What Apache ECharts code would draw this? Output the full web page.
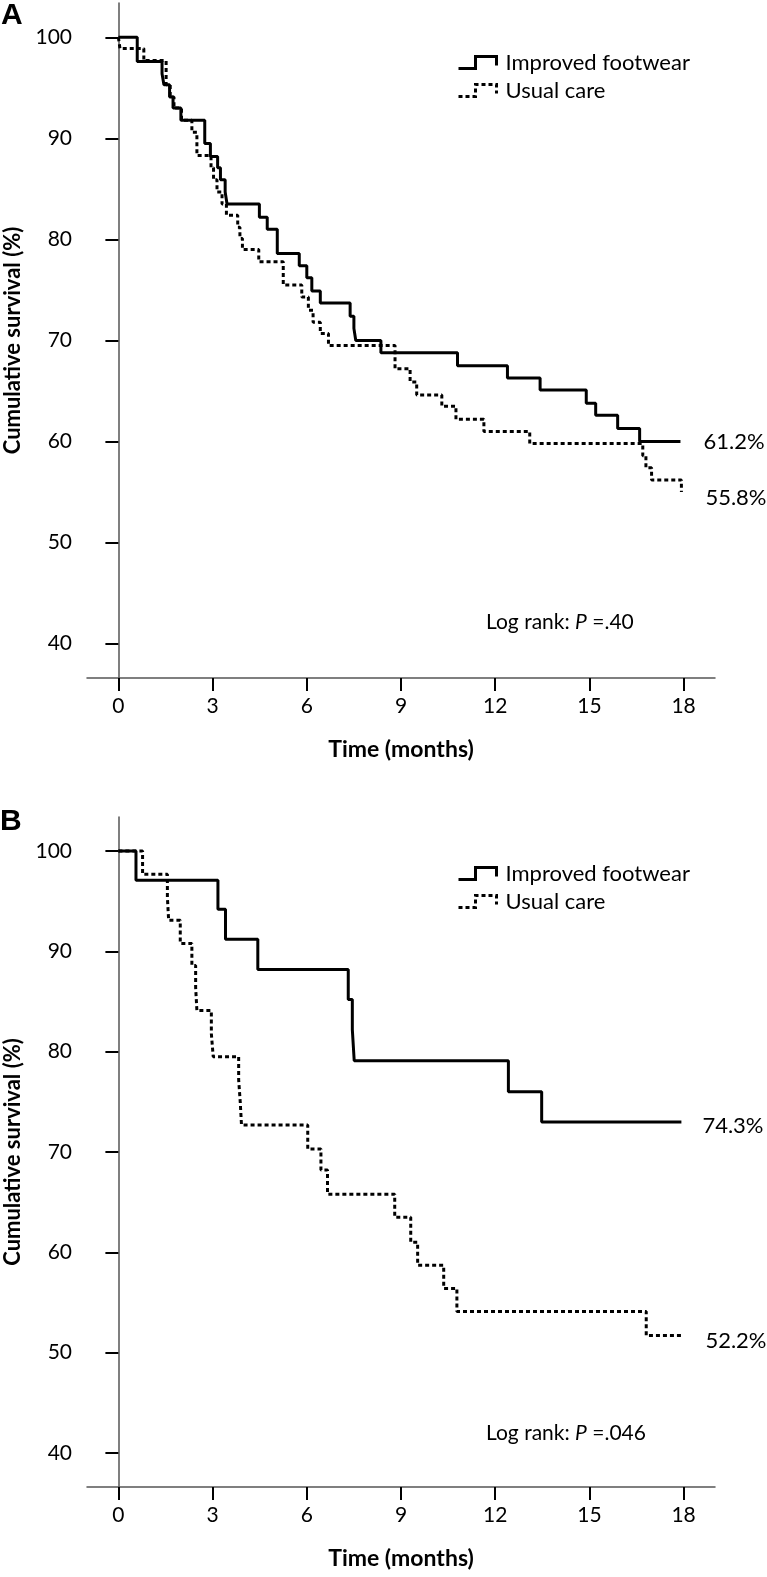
<!DOCTYPE html>
<html>
<head>
<meta charset="utf-8">
<script src="https://cdn.jsdelivr.net/npm/echarts@6/dist/echarts.min.js"></script>
<style>
html,body{margin:0;padding:0;background:#fff;}
#chart{width:767px;height:1577px;}
</style>
</head>
<body>
<div id="chart"></div>
<script>
// ---- data ----
const timeTicks = [0, 3, 6, 9, 12, 15, 18];
const survivalTicks = [40, 50, 60, 70, 80, 90, 100];
const seriesNames = ['Improved footwear', 'Usual care'];
const panelLetters = ['A', 'B'];

// Panel A: [time (months), cumulative survival (%)]
const footwearA = [[0,100],[0.6,97.6],[1.39,96.4],[1.45,95.3],[1.63,94.1],[1.74,93.0],[1.99,91.8],[2.75,89.5],[2.93,88.2],[3.16,87.1],[3.25,85.9],[3.4,84.7],[3.46,83.5],[4.49,82.2],[4.74,81.0],[5.06,78.6],[5.76,77.4],[6.0,76.2],[6.16,74.9],[6.43,73.7],[7.38,72.4],[7.5,71.2],[7.56,70.0],[8.36,68.8],[10.8,67.5],[12.39,66.3],[13.43,65.1],[14.9,63.8],[15.2,62.6],[15.9,61.3],[16.6,60.0],[17.9,60.0]];
const usualA = [[0,100],[0.05,98.9],[0.81,97.7],[1.52,95.3],[1.65,94.1],[1.77,93.0],[2.01,91.8],[2.34,90.6],[2.5,88.3],[2.95,87.1],[3.03,85.9],[3.14,84.7],[3.3,83.5],[3.44,82.4],[3.8,81.2],[3.87,80.1],[3.95,79.0],[4.47,77.8],[5.25,75.5],[5.84,74.3],[6.05,73.0],[6.2,71.8],[6.43,70.7],[6.69,69.5],[8.81,67.2],[9.29,65.9],[9.5,64.6],[10.3,63.5],[10.75,62.2],[11.64,61.0],[13.1,59.8],[16.7,58.6],[16.8,57.4],[16.98,56.2],[17.93,55.0]];

// Panel B
const footwearB = [[0,100],[0.56,97.1],[3.17,94.2],[3.41,91.2],[4.44,88.2],[7.32,85.2],[7.45,82.2],[7.51,79.1],[12.42,76.0],[13.48,73.0],[17.93,73.0]];
const usualB = [[0,100],[0.77,97.7],[1.56,95.4],[1.6,93.1],[1.97,90.8],[2.34,88.6],[2.46,86.4],[2.5,84.1],[2.96,81.8],[3.02,79.5],[3.83,77.2],[3.88,75.0],[3.92,72.7],[6.03,70.3],[6.45,68.2],[6.66,65.8],[8.8,63.5],[9.31,61.0],[9.53,58.7],[10.36,56.4],[10.78,54.1],[16.81,51.7],[17.93,51.7]];

const endLabelsA = ['61.2%', '55.8%'];
const endLabelsB = ['74.3%', '52.2%'];
const logRankP = ['.40', '.046'];

// ---- chart ----
const FONT = 'Lato';
const chart = echarts.init(document.getElementById('chart'), null, {renderer: 'canvas'});

function xAxisOpt(gridIndex) {
  return {
    type: 'value', gridIndex: gridIndex, min: -1, max: 19,
    name: 'Time (months)', nameLocation: 'middle', nameGap: 60,
    nameTextStyle: {fontFamily: FONT, fontWeight: 'bold', fontSize: 23, color: '#000'},
    axisLine: {show: true, lineStyle: {color: '#555', width: 1.5}},
    axisTick: {show: true, customValues: timeTicks, length: 13, lineStyle: {color: '#000', width: 2}},
    axisLabel: {customValues: timeTicks, margin: 18, fontFamily: FONT, fontSize: 21, color: '#000'},
    splitLine: {show: false}
  };
}
function yAxisOpt(gridIndex) {
  return {
    type: 'value', gridIndex: gridIndex, min: 36.6, max: 103.4,
    name: 'Cumulative survival (%)', nameLocation: 'middle', nameGap: 63,
    nameTextStyle: {fontFamily: FONT, fontWeight: 'bold', fontSize: 22, color: '#000'},
    axisLine: {show: true, lineStyle: {color: '#555', width: 1.5}},
    axisTick: {show: true, customValues: survivalTicks, length: 13, lineStyle: {color: '#000', width: 2}},
    axisLabel: {customValues: survivalTicks, margin: 15, fontFamily: FONT, fontSize: 21, color: '#000'},
    splitLine: {show: false}
  };
}
function kmSeries(name, data, gridIndex, dashed, label, offsetY, dist) {
  return {
    type: 'line', name: name, data: data, step: 'end',
    xAxisIndex: gridIndex, yAxisIndex: gridIndex,
    symbol: 'none', silent: true,
    lineStyle: {color: '#000', width: 3, type: dashed ? [4, 3] : 'solid', cap: 'butt'},
    itemStyle: {color: '#000'},
    endLabel: {show: true, formatter: label, distance: dist, offset: [0, offsetY],
      fontFamily: FONT, fontSize: 22, color: '#000'}
  };
}
function legendOpt(top) {
  return {
    orient: 'vertical', left: 452, top: top, itemGap: 5,
    itemWidth: 38, itemHeight: 12,
    icon: 'path://M0,12 L17,12 L17,0 L38,0 L38,9',
    itemStyle: {color: 'rgba(0,0,0,0)', borderColor: '#000', borderWidth: 3},
    textStyle: {fontFamily: FONT, fontSize: 22, color: '#000', lineHeight: 23, padding: [0, 0, 0, 4]},
    data: [
      {name: seriesNames[0]},
      {name: seriesNames[1], itemStyle: {borderType: [4, 3]}}
    ],
    selectedMode: false
  };
}
function logRankText(x, y, p) {
  return {
    type: 'text', x: x, y: y,
    style: {
      text: '{n|Log rank: }{i|P}{n| =' + p + '}',
      verticalAlign: 'middle',
      rich: {
        n: {fontFamily: FONT, fontSize: 21, fill: '#000', color: '#000'},
        i: {fontFamily: FONT, fontSize: 21, fontStyle: 'italic', fill: '#000', color: '#000'}
      }
    }
  };
}

chart.setOption({
  animation: false,
  backgroundColor: '#fff',
  grid: [
    {left: 87, top: 3, width: 628, height: 675, outerBoundsMode: 'none', containLabel: false},
    {left: 87, top: 817, width: 628, height: 670, outerBoundsMode: 'none', containLabel: false}
  ],
  xAxis: [xAxisOpt(0), xAxisOpt(1)],
  yAxis: [yAxisOpt(0), yAxisOpt(1)],
  legend: [legendOpt(46), legendOpt(857)],
  series: [
    kmSeries(seriesNames[0], footwearA, 0, false, endLabelsA[0], 0, 23),
    kmSeries(seriesNames[1], usualA, 0, true, endLabelsA[1], 6, 24),
    kmSeries(seriesNames[0], footwearB, 1, false, endLabelsB[0], 4, 21),
    kmSeries(seriesNames[1], usualB, 1, true, endLabelsB[1], 5, 24)
  ],
  graphic: [
    {type: 'text', x: 1, y: 16, style: {text: panelLetters[0], font: 'bold 30px "Liberation Sans"', fill: '#000', verticalAlign: 'middle'}},
    {type: 'text', x: 0, y: 822, style: {text: panelLetters[1], font: 'bold 30px "Liberation Sans"', fill: '#000', verticalAlign: 'middle'}},
    logRankText(486, 622, logRankP[0]),
    logRankText(486, 1433, logRankP[1])
  ]
});
</script>
</body>
</html>
